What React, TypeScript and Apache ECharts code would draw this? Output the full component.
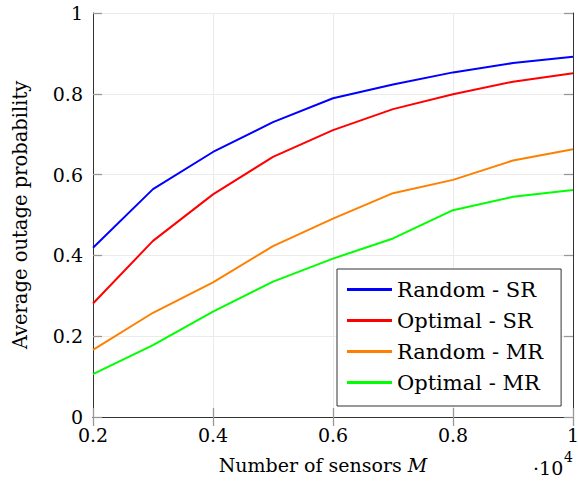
import React, { useEffect, useRef } from 'react';
import * as echarts from 'echarts';

// Number of sensors M, in units of 10^4
const sensors = [0.2, 0.3, 0.4, 0.5, 0.6, 0.7, 0.8, 0.9, 1.0];
const randomSR = [0.419, 0.564, 0.656, 0.73, 0.789, 0.823, 0.853, 0.876, 0.892];
const optimalSR = [0.281, 0.436, 0.551, 0.644, 0.71, 0.762, 0.799, 0.83, 0.851];
const randomMR = [0.166, 0.258, 0.333, 0.423, 0.491, 0.554, 0.587, 0.635, 0.663];
const optimalMR = [0.106, 0.178, 0.261, 0.335, 0.392, 0.442, 0.512, 0.545, 0.562];

const seriesNames = ['Random - SR', 'Optimal - SR', 'Random - MR', 'Optimal - MR'];
const seriesColors = ['#0000ff', '#ff0000', '#ff8000', '#00ff00'];
const seriesValues = [randomSR, optimalSR, randomMR, optimalMR];

const FONT = 'DejaVu Serif';

const fmt = (v: number) => String(+v.toFixed(1));

export default function App() {
  const ref = useRef<HTMLDivElement>(null);
  useEffect(() => {
    document.body.style.margin = '0';
    if (!ref.current) return;
    const chart = echarts.init(ref.current, undefined, { renderer: 'svg' });
    const axisLine = { show: true, lineStyle: { color: '#333', width: 1 } };
    const axisTick = { show: true, inside: true, length: 9, lineStyle: { color: '#999', width: 1.3 } };
    const splitLine = { show: true, lineStyle: { color: '#ebebeb', width: 1 } };
    const labelStyle = { fontFamily: FONT, fontSize: 19, color: '#000' };
    chart.setOption({
      animation: false,
      backgroundColor: '#fff',
      grid: { left: 93, right: 5, top: 13, bottom: 76, outerBoundsMode: 'none', containLabel: false },
      xAxis: [
        {
          type: 'value', position: 'bottom', min: 0.2, max: 1, interval: 0.2,
          axisLine, axisTick, splitLine,
          axisLabel: { ...labelStyle, margin: 8, formatter: fmt },
          name: 'Number of sensors {i|M}',
          nameLocation: 'middle', nameGap: 38,
          nameTextStyle: {
            ...labelStyle, padding: [0, 20, 0, 0],
            rich: { i: { fontFamily: FONT, fontSize: 19, fontStyle: 'italic', color: '#000' } },
          },
        },
        {
          type: 'value', position: 'top', min: 0.2, max: 1, interval: 0.2,
          axisLine, axisTick, splitLine: { show: false }, axisLabel: { show: false },
        },
      ],
      yAxis: [
        {
          type: 'value', position: 'left', min: 0, max: 1, interval: 0.2,
          axisLine, axisTick, splitLine,
          axisLabel: { ...labelStyle, margin: 10, formatter: fmt },
          name: 'Average outage probability',
          nameLocation: 'middle', nameGap: 63, nameRotate: 90,
          nameTextStyle: { ...labelStyle, fontSize: 19.5 },
        },
        {
          type: 'value', position: 'right', min: 0, max: 1, interval: 0.2,
          axisLine, axisTick, splitLine: { show: false }, axisLabel: { show: false },
        },
      ],
      legend: {
        data: seriesNames,
        orient: 'vertical',
        left: 337, top: 269,
        padding: [9, 18, 12, 10],
        itemGap: 8,
        itemWidth: 45, itemHeight: 3,
        icon: 'rect',
        borderColor: '#333', borderWidth: 1, backgroundColor: '#fff',
        textStyle: { ...labelStyle, fontSize: 21, lineHeight: 23, padding: [0, 0, 0, 0] },
      },
      graphic: [
        { type: 'text', left: 533, top: 458, style: { text: '·10', font: `19px "${FONT}"`, fill: '#000' } },
        { type: 'text', left: 564, top: 450, style: { text: '4', font: `14px "${FONT}"`, fill: '#000' } },
      ],
      series: seriesNames.map((name, k) => ({
        name, type: 'line', showSymbol: false,
        xAxisIndex: 0, yAxisIndex: 0,
        color: seriesColors[k],
        lineStyle: { color: seriesColors[k], width: 2 },
        data: sensors.map((x, i) => [x, seriesValues[k][i]]),
      })),
    });
    return () => chart.dispose();
  }, []);
  return <div ref={ref} style={{ width: 578, height: 493 }} />;
}
